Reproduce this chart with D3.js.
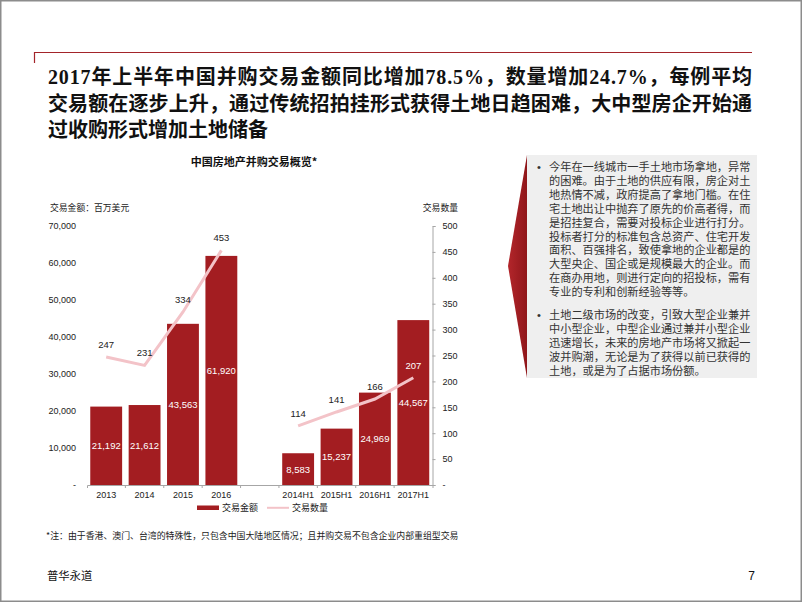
<!DOCTYPE html>
<html><head><meta charset="utf-8">
<script src="https://cdn.jsdelivr.net/npm/d3@7"></script>
<style>
body{margin:0;background:#fff;}
svg{display:block;}
</style></head>
<body><svg id="c" width="802" height="602"></svg>
<script>
const categories = ["2013","2014","2015","2016","","2014H1","2015H1","2016H1","2017H1"];
const amounts = [21192,21612,43563,61920,null,8583,15237,24969,44567];
const counts = [247,231,334,453,null,114,141,166,207];
const leftTicks = [0,10000,20000,30000,40000,50000,60000,70000];
const rightTicks = [0,50,100,150,200,250,300,350,400,450,500];
const titleLines = [
  "2017年上半年中国并购交易金额同比增加78.5%，数量增加24.7%，每例平均",
  "交易额在逐步上升，通过传统招拍挂形式获得土地日趋困难，大中型房企开始通",
  "过收购形式增加土地储备"
];
const chartTitle = "中国房地产并购交易概览*";
const leftAxisTitle = "交易金额：百万美元";
const rightAxisTitle = "交易数量";
const legendLabels = ["交易金额","交易数量"];
const footnote = "*注：由于香港、澳门、台湾的特殊性，只包含中国大陆地区情况；且并购交易不包含企业内部重组型交易";
const bullets = [
  ["今年在一线城市一手土地市场拿地，异常","的困难。由于土地的供应有限，房企对土","地热情不减，政府提高了拿地门槛。在住","宅土地出让中抛弃了原先的价高者得，而","是招挂复合，需要对投标企业进行打分。","投标者打分的标准包含总资产、住宅开发","面积、百强排名，致使拿地的企业都是的","大型央企、国企或是规模最大的企业。而","在商办用地，则进行定向的招投标，需有","专业的专利和创新经验等等。"],
  ["土地二级市场的改变，引致大型企业兼并","中小型企业，中型企业通过兼并小型企业","迅速增长，未来的房地产市场将又掀起一","波并购潮，无论是为了获得以前已获得的","土地，或是为了占据市场份额。"]
];
const footerLeft = "普华永道";
const pageNumber = "7";

const RED = "#a31d21", PINK = "#f3c3c8", AXIS = "#a6a6a6";
const SANS = "'Liberation Sans', Arial, 'Noto Sans CJK SC', sans-serif";
const CJK = "'Noto Sans CJK SC', sans-serif";

const svg = d3.select("#c");
svg.append("rect").attr("x",0.75).attr("y",0.75).attr("width",800.5).attr("height",600.5)
  .attr("fill","#fff").attr("stroke","#8c8c8c").attr("stroke-width",1.5);

// header rule
svg.append("path").attr("d","M34.5,63 V52.5 H752").attr("fill","none").attr("stroke","#a3242a").attr("stroke-width",1.2);

// title
const tt = svg.append("text").attr("font-family","'Liberation Serif', 'Noto Sans CJK SC', serif")
  .attr("font-weight","bold").attr("font-size",20).attr("fill","#111");
titleLines.forEach((l,i)=>{
  const t = tt.append("tspan").attr("x",48).attr("y",84+i*26.5).text(l);
  if(i<2) t.attr("textLength",704).attr("lengthAdjust","spacing");
});

// chart
const x = d3.scaleBand().domain(d3.range(categories.length)).range([87,432.5]).paddingInner(0.17).paddingOuter(0.085);
const yL = d3.scaleLinear().domain([0,70000]).range([485,226]);
const yR = d3.scaleLinear().domain([0,500]).range([485,226]);

svg.append("text").attr("x",254).attr("y",166).attr("text-anchor","middle")
  .attr("font-family",CJK).attr("font-weight","bold").attr("font-size",11).attr("fill","#111").text(chartTitle);
svg.append("text").attr("x",50).attr("y",211).attr("font-family",CJK).attr("font-size",8.8).attr("fill","#222").text(leftAxisTitle);
svg.append("text").attr("x",458).attr("y",211).attr("text-anchor","end").attr("font-family",CJK).attr("font-size",8.8).attr("fill","#222").text(rightAxisTitle);

// left axis
const gl = svg.append("g").attr("transform","translate(79,0)")
  .call(d3.axisLeft(yL).tickValues(leftTicks).tickSize(0).tickPadding(3)
    .tickFormat(d=>d===0?"-":d3.format(",")(d)));
gl.select(".domain").remove();
gl.selectAll("text").attr("font-family",SANS).attr("font-size",9).attr("fill","#222");

// right axis
const gr = svg.append("g").attr("transform","translate(432.5,0)")
  .call(d3.axisRight(yR).tickValues(rightTicks).tickSize(3).tickSizeOuter(3).tickPadding(7)
    .tickFormat(d=>d===0?"-":d));
gr.selectAll("path,line").attr("stroke",AXIS);
gr.selectAll("text").attr("font-family",SANS).attr("font-size",9).attr("fill","#222");

// bars
const data = categories.map((c,i)=>({i,c,a:amounts[i],n:counts[i]}));
svg.append("g").selectAll("rect").data(data.filter(d=>d.a!=null)).join("rect")
  .attr("x",d=>x(d.i)).attr("width",x.bandwidth())
  .attr("y",d=>yL(d.a)).attr("height",d=>yL(0)-yL(d.a)).attr("fill",RED);

// x axis
const gx = svg.append("g").attr("transform","translate(0,485)")
  .call(d3.axisBottom(x).tickSize(0).tickSizeOuter(3).tickPadding(7).tickFormat(i=>categories[i]));
gx.selectAll("path").attr("stroke",AXIS);
gx.selectAll("text").attr("font-family",SANS).attr("font-size",9).attr("fill","#222");
const gap = (x.step()-x.bandwidth())/2;
gx.selectAll("line.b").data(d3.range(1,categories.length)).join("line").attr("class","b")
  .attr("x1",i=>x(i)-gap).attr("x2",i=>x(i)-gap).attr("y1",0).attr("y2",3).attr("stroke",AXIS);

// bar labels
svg.append("g").selectAll("text").data(data.filter(d=>d.a!=null)).join("text")
  .attr("x",d=>x(d.i)+x.bandwidth()/2).attr("y",d=>(yL(d.a)+yL(0))/2+3.5)
  .attr("text-anchor","middle").attr("font-family",SANS).attr("font-size",9.5).attr("fill","#fff")
  .text(d=>d3.format(",")(d.a));

// line
const line = d3.line().defined(d=>d.n!=null).x(d=>x(d.i)+x.bandwidth()/2).y(d=>yR(d.n));
svg.append("path").datum(data).attr("d",line).attr("fill","none").attr("stroke",PINK).attr("stroke-width",3);

svg.append("g").selectAll("text").data(data.filter(d=>d.n!=null)).join("text")
  .attr("x",d=>x(d.i)+x.bandwidth()/2).attr("y",d=>yR(d.n)-9)
  .attr("text-anchor","middle").attr("font-family",SANS).attr("font-size",9.5)
  .attr("fill",d=>(yR(d.n)-12 > yL(d.a))?"#fff":"#222")
  .text(d=>d.n);

// legend
svg.append("rect").attr("x",197).attr("y",505.5).attr("width",22).attr("height",4.5).attr("fill",RED);
svg.append("text").attr("x",222).attr("y",511).attr("font-family",CJK).attr("font-size",9).attr("fill","#222").text(legendLabels[0]);
svg.append("line").attr("x1",267).attr("x2",289).attr("y1",507.8).attr("y2",507.8).attr("stroke",PINK).attr("stroke-width",2);
svg.append("text").attr("x",292).attr("y",511).attr("font-family",CJK).attr("font-size",9).attr("fill","#222").text(legendLabels[1]);

// footnote
svg.append("text").attr("x",46).attr("y",539).attr("font-family",CJK).attr("font-size",8.9).attr("fill","#222").text(footnote);

// right panel
const defs = svg.append("defs");
const grad = defs.append("linearGradient").attr("id","rg").attr("x1","0").attr("x2","1").attr("y1","0").attr("y2","0");
grad.append("stop").attr("offset","0").attr("stop-color","#b3262b");
grad.append("stop").attr("offset","1").attr("stop-color","#8f161a");
svg.append("rect").attr("x",527).attr("y",155).attr("width",230).attr("height",223).attr("fill","#efefef");
svg.append("path").attr("d","M527,155 L508,266 L527,378 Z").attr("fill","url(#rg)");

const pt = svg.append("g").attr("font-family","'Liberation Serif', 'Noto Sans CJK SC', serif").attr("font-size",11.2).attr("fill","#333");
let yy = 171;
bullets.forEach((b,bi)=>{
  pt.append("text").attr("x",537).attr("y",yy).attr("font-family",SANS).text("•");
  const para = pt.append("text");
  b.forEach((l,li)=>{
    para.append("tspan").attr("x",549).attr("y",yy).text(l);
    yy += 13.9;
  });
  yy += 9;
});

// footer
svg.append("text").attr("x",47).attr("y",580).attr("font-family",CJK).attr("font-size",11.3).attr("fill","#111").text(footerLeft);
svg.append("text").attr("x",755).attr("y",580).attr("text-anchor","end").attr("font-family",SANS).attr("font-size",12).attr("fill","#111").text(pageNumber);
</script></body></html>
